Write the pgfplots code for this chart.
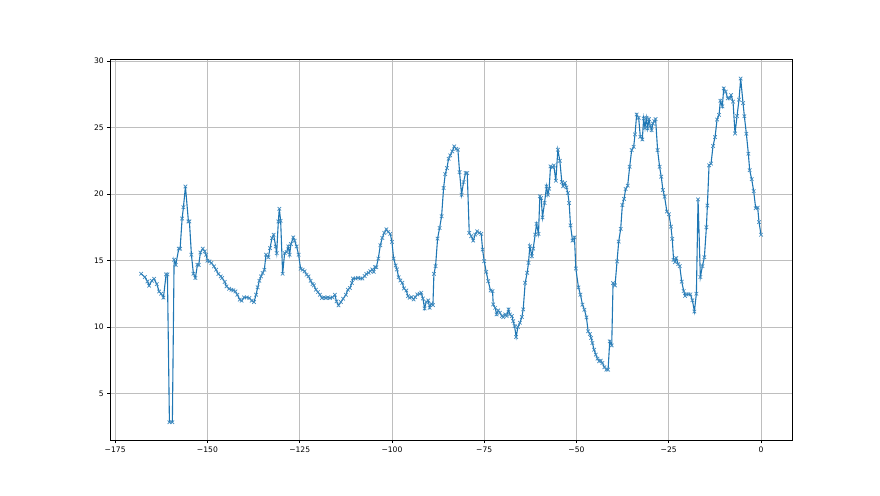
\documentclass[border=0pt]{standalone}
\usepackage{fontspec}
\setmainfont{DejaVu Sans}
\usepackage{pgfplots}
\pgfplotsset{compat=1.18}
\definecolor{mplblue}{RGB}{31,119,180}
\definecolor{mplgrid}{RGB}{190,190,190}
\begin{document}
\begin{tikzpicture}
\useasboundingbox (0,0) rectangle (880pt,495pt);
\begin{axis}[
  at={(110pt,54.45pt)}, anchor=south west,
  scale only axis, width=682pt, height=381.15pt,
  xmin=-176.4, xmax=8.4, ymin=1.47, ymax=30.12,
  axis line style={black, line width=0.6pt},
  tick align=outside, tick pos=left,
  major tick length=2.7pt,
  tick style={black, line width=0.6pt},
  grid=major,
  grid style={mplgrid, line width=0.55pt},
  xtick={-175,-150,-125,-100,-75,-50,-25,0},
  xticklabels={−175,−150,−125,−100,−75,−50,−25,0},
  ytick={5,10,15,20,25,30},
  /pgf/number format/assume math mode=true,
  ticklabel style={font=\fontsize{7.6}{9}\selectfont},
]
\addplot[mplblue, line width=1.1pt, mark=x, mark size=2.5pt, mark options={line width=0.7pt, solid, mplblue!85!white}] coordinates {
(-167.97,14.01) (-166.97,13.76) (-166.25,13.43) (-165.8,13.11) (-165.08,13.48) (-164.45,13.63) (-163.72,13.23) (-163.09,12.68) (-162.55,12.51) (-161.92,12.21) (-161.2,13.96) (-160.84,13.96) (-160.3,2.85) (-159.5,2.85) (-159.03,15.06) (-158.58,14.68) (-157.77,15.89) (-157.4,15.89) (-156.86,18.16) (-156.5,19.01) (-155.96,20.57) (-155.15,17.94) (-154.88,17.94) (-154.34,15.44) (-153.8,14.01) (-153.26,13.69) (-152.71,14.68) (-152.35,14.68) (-151.9,15.61) (-151.27,15.89) (-150.73,15.69) (-150.37,15.44) (-150.0,14.99) (-149.46,14.94) (-148.92,14.81) (-148.2,14.56) (-147.66,14.31) (-147.03,13.99) (-146.4,13.81) (-146.03,13.69) (-145.31,13.39) (-144.86,13.06) (-144.14,12.88) (-143.51,12.81) (-142.97,12.76) (-142.42,12.68) (-141.88,12.43) (-141.25,12.06)
(-140.71,11.98) (-140.08,12.23) (-139.36,12.23) (-138.63,12.18) (-138.0,11.98) (-137.37,11.88) (-136.83,12.43) (-136.38,12.99) (-135.93,13.48) (-135.48,13.81) (-135.03,14.06) (-134.58,14.31) (-134.13,15.44) (-133.49,15.24) (-133.04,15.94) (-132.5,16.69) (-132.05,16.94) (-131.51,16.06) (-131.24,15.56) (-130.79,17.94) (-130.52,18.89) (-130.16,17.99) (-129.62,14.01) (-129.08,15.56) (-128.54,15.64) (-128.09,16.06) (-127.73,15.44) (-127.37,16.24) (-126.74,16.74) (-126.38,16.49) (-125.84,16.06) (-125.3,15.44) (-124.75,14.39) (-124.21,14.31) (-123.67,14.19) (-123.13,13.94) (-122.59,13.81) (-122.05,13.48) (-121.51,13.23) (-121.15,13.13) (-120.61,12.81) (-120.06,12.63) (-119.52,12.43) (-118.98,12.18) (-118.44,12.23) (-117.9,12.18) (-117.36,12.23) (-116.82,12.18) (-116.1,12.23) (-115.47,12.43) (-115.02,11.93) (-114.48,11.63) (-113.85,11.88) (-113.22,12.13) (-112.49,12.43) (-111.95,12.81) (-111.41,12.93) (-110.87,13.31)
(-110.56,13.65) (-109.84,13.65) (-109.21,13.7) (-108.57,13.65) (-108.03,13.65) (-107.4,13.83) (-106.95,14.0) (-106.32,14.08) (-105.87,14.2) (-105.33,14.33) (-104.96,14.15) (-104.6,14.5) (-104.24,14.5) (-103.7,15.15) (-103.16,16.15) (-102.62,16.7) (-102.08,17.08) (-101.53,17.35) (-100.99,17.15) (-100.45,17.0) (-100.0,16.4) (-99.55,15.15) (-99.01,14.63) (-98.65,14.33) (-98.19,13.75) (-97.74,13.5) (-97.2,13.33) (-96.75,12.9) (-96.12,12.75) (-95.67,12.33) (-95.22,12.2) (-94.68,12.25) (-94.13,12.08) (-93.68,12.25) (-93.14,12.45) (-92.51,12.5) (-92.06,12.58) (-91.61,12.15) (-91.16,11.4) (-90.7,11.9) (-90.16,12.0) (-89.8,11.45) (-89.35,11.75) (-88.9,11.65) (-88.63,14.0) (-88.18,14.58) (-87.64,16.65) (-87.09,17.45) (-86.55,18.33) (-86.01,20.45) (-85.56,21.5) (-85.11,21.95) (-84.66,22.65) (-84.21,22.9) (-83.66,23.2) (-83.12,23.58) (-82.58,23.4) (-82.13,23.33) (-81.68,21.65) (-81.14,19.95) (-80.6,20.9) (-80.05,21.58) (-79.6,21.58)
(-79.06,17.08) (-78.52,16.83) (-77.98,16.5) (-77.44,16.95) (-76.9,17.2) (-76.35,17.08) (-75.81,17.0) (-75.45,15.83) (-75.0,14.95) (-74.46,14.15) (-73.92,13.45) (-73.29,12.75) (-72.74,12.7) (-72.56,11.7) (-72.02,11.45) (-71.66,10.95) (-71.21,11.25) (-70.76,11.08) (-70.22,10.83) (-69.86,10.75) (-69.31,10.95) (-68.95,10.83) (-68.41,11.33) (-68.05,10.95) (-67.51,10.83) (-67.15,10.45) (-66.79,10.08) (-66.34,9.25) (-65.88,10.0) (-65.34,10.33) (-64.8,10.75) (-64.44,11.33) (-63.9,13.33) (-63.36,14.08) (-63.0,14.83) (-62.64,16.08) (-62.09,15.33) (-61.73,15.9) (-61.19,16.95) (-60.83,17.75) (-60.29,17.0) (-59.93,19.83) (-59.57,19.7) (-59.21,18.25) (-58.66,19.33) (-58.12,20.58) (-57.76,19.95) (-57.4,20.4) (-57.04,22.08) (-56.5,22.0) (-56.14,22.15) (-55.6,21.0) (-55.05,23.33) (-54.51,22.5) (-53.97,20.9) (-53.61,20.58) (-53.16,20.83) (-52.71,20.5) (-52.35,20.08) (-51.99,19.33) (-51.62,17.65) (-51.08,16.5) (-50.54,16.75) (-50.18,14.4)
(-49.46,12.98) (-48.92,12.43) (-48.38,11.68) (-47.84,11.3) (-47.3,10.73) (-46.85,9.68) (-46.4,9.48) (-46.04,9.18) (-45.68,8.8) (-45.23,8.3) (-44.77,7.93) (-44.32,7.63) (-43.87,7.43) (-43.42,7.48) (-42.97,7.3) (-42.43,6.98) (-41.89,6.8) (-41.44,6.8) (-40.99,8.93) (-40.45,8.63) (-40.09,13.3) (-39.55,13.13) (-39.01,14.93) (-38.56,16.43) (-38.02,17.38) (-37.57,19.18) (-37.12,19.63) (-36.67,20.38) (-36.13,20.63) (-35.59,22.05) (-35.05,23.3) (-34.5,23.55) (-34.14,24.48) (-33.69,25.98) (-33.15,25.73) (-32.7,24.3) (-32.16,24.1) (-31.8,25.68) (-31.44,24.98) (-31.08,25.73) (-30.72,24.93) (-30.36,25.63) (-30.0,25.13) (-29.64,24.8) (-29.28,25.3) (-28.92,25.48) (-28.56,25.63) (-28.02,23.3) (-27.48,22.05) (-27.03,21.3) (-26.58,20.3) (-26.13,19.8) (-25.5,18.68) (-24.95,18.48) (-24.41,17.55) (-24.05,16.63) (-23.69,15.05) (-23.33,14.88) (-22.97,15.18) (-22.43,14.73)
(-22.02,14.58) (-21.48,13.41) (-20.94,12.71) (-20.58,12.34) (-20.22,12.46) (-19.68,12.46) (-19.13,12.46) (-18.59,12.01) (-18.05,11.17) (-17.51,12.51) (-17.06,19.6) (-16.43,13.76) (-15.88,14.58) (-15.34,15.25) (-14.8,17.51) (-14.53,19.13) (-14.08,22.16) (-13.54,22.29) (-13.0,23.61) (-12.45,24.28) (-11.91,25.6) (-11.37,25.95) (-11.01,27.01) (-10.47,26.59) (-10.11,27.94) (-9.57,27.69) (-9.03,27.19) (-8.48,27.19) (-8.12,27.44) (-7.58,26.94) (-7.04,24.55) (-6.5,25.85) (-5.96,27.09) (-5.51,28.68) (-4.87,26.84) (-4.51,25.85) (-3.97,24.53) (-3.43,23.03) (-3.07,21.79) (-2.53,21.12) (-1.99,20.22) (-1.44,18.93) (-0.9,18.98) (-0.54,17.89) (0,16.94)
};
\end{axis}
\end{tikzpicture}
\end{document}
